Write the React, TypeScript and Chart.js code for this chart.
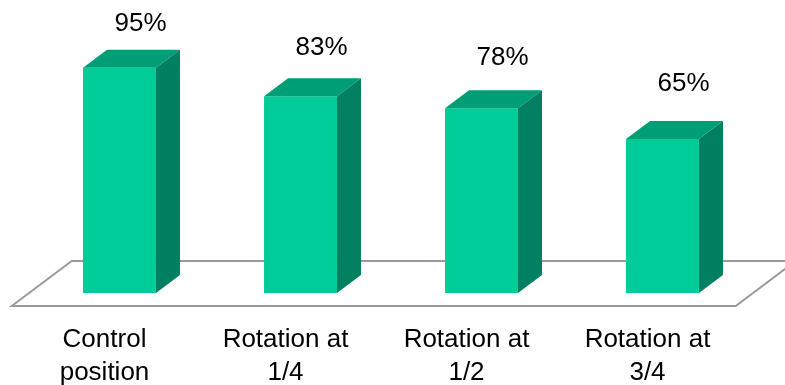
import React, { useEffect, useRef } from "react";
import { Chart, registerables } from "chart.js";

Chart.register(...registerables);

const categories: string[][] = [
  ["Control", "position"],
  ["Rotation at", "1/4"],
  ["Rotation at", "1/2"],
  ["Rotation at", "3/4"],
];
const values: number[] = [95, 83, 78, 65];
const valueLabels: string[] = ["95%", "83%", "78%", "65%"];

const FRONT = "#00CC99";
const TOP = "#009E77";
const SIDE = "#008060";
const FONT = "'Liberation Sans', Arial, sans-serif";
const DEPTH_X = 24;
const DEPTH_Y = -18;

const threeD = {
  id: "threeD",
  beforeDatasetsDraw(chart: any) {
    const { ctx, chartArea } = chart;
    const L = chartArea.left;
    const R = chartArea.right;
    const B = chartArea.bottom;
    ctx.save();
    ctx.strokeStyle = "#9A9A9A";
    ctx.lineWidth = 2;
    ctx.beginPath();
    ctx.moveTo(L - 0.72 * DEPTH_X, B - 0.72 * DEPTH_Y);
    ctx.lineTo(L + 1.78 * DEPTH_X, B + 1.78 * DEPTH_Y);
    ctx.lineTo(R + 1.78 * DEPTH_X, B + 1.78 * DEPTH_Y);
    ctx.lineTo(R - 0.72 * DEPTH_X, B - 0.72 * DEPTH_Y);
    ctx.closePath();
    ctx.stroke();
    ctx.restore();
  },
  afterDatasetsDraw(chart: any) {
    const { ctx, chartArea } = chart;
    const meta = chart.getDatasetMeta(0);
    ctx.save();
    meta.data.forEach((bar: any, i: number) => {
      const { x, y, base, width } = bar.getProps(["x", "y", "base", "width"], true);
      const xl = x - width / 2;
      const xr = x + width / 2;
      // top face
      ctx.fillStyle = TOP;
      ctx.beginPath();
      ctx.moveTo(xl, y);
      ctx.lineTo(xl + DEPTH_X, y + DEPTH_Y);
      ctx.lineTo(xr + DEPTH_X, y + DEPTH_Y);
      ctx.lineTo(xr, y);
      ctx.closePath();
      ctx.fill();
      // side face
      ctx.fillStyle = SIDE;
      ctx.beginPath();
      ctx.moveTo(xr, y);
      ctx.lineTo(xr + DEPTH_X, y + DEPTH_Y);
      ctx.lineTo(xr + DEPTH_X, base + DEPTH_Y);
      ctx.lineTo(xr, base);
      ctx.closePath();
      ctx.fill();
      // value label
      const h = chartArea.bottom - y;
      const offset = 80.5 - 0.162 * h;
      ctx.fillStyle = "#000";
      ctx.font = `26px ${FONT}`;
      ctx.textAlign = "center";
      ctx.textBaseline = "middle";
      ctx.fillText(valueLabels[i], x + 21, y - offset);
    });
    ctx.restore();
  },
};

export default function App() {
  const ref = useRef<HTMLCanvasElement>(null);
  useEffect(() => {
    document.body.style.margin = "0";
    const chart = new Chart(ref.current!, {
      type: "bar",
      data: {
        labels: categories,
        datasets: [
          {
            data: values,
            backgroundColor: FRONT,
            borderWidth: 0,
            barPercentage: 0.403,
            categoryPercentage: 1,
          },
        ],
      },
      options: {
        animation: false,
        responsive: false,
        layout: { padding: { left: 29, right: 32, top: 56, bottom: 0 } },
        plugins: { legend: { display: false }, tooltip: { enabled: false } },
        scales: {
          x: {
            grid: { display: false },
            border: { display: false },
            afterFit: (scale: any) => {
              scale.height = 92;
            },
            ticks: {
              color: "#000",
              font: { family: FONT, size: 26, lineHeight: 1.25 },
              padding: 23,
              labelOffset: -15,
              maxRotation: 0,
              autoSkip: false,
            },
          },
          y: { display: false, min: 0, max: 100 },
        },
      },
      plugins: [threeD],
    });
    return () => chart.destroy();
  }, []);
  return (
    <div style={{ width: 785, height: 385 }}>
      <canvas ref={ref} width={785} height={385} />
    </div>
  );
}
